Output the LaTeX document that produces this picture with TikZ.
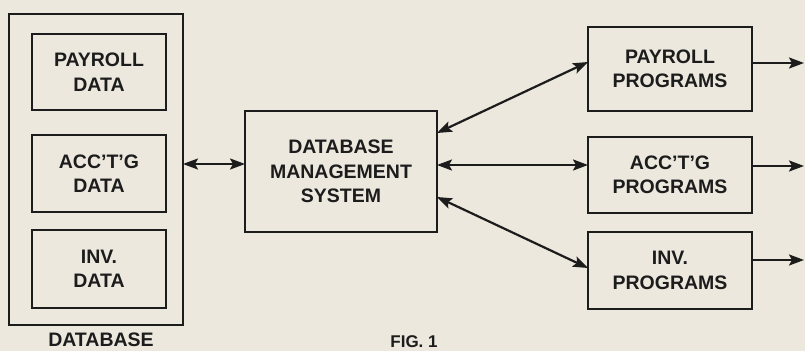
\documentclass[tikz,border=0pt]{standalone}
\usepackage{fontspec}
\setmainfont{Liberation Sans}
\usetikzlibrary{arrows.meta,calc}
\definecolor{paper}{HTML}{ECE8DE}
\definecolor{ink}{HTML}{1C1C1C}
\begin{document}
\begin{tikzpicture}[x=1pt,y=-1pt,
  box/.style={draw=ink,line width=2.6pt,outer sep=0pt,inner sep=0pt,align=center,
    font=\bfseries\fontsize{19.5}{24.5}\selectfont,text=ink},
  lbl/.style={font=\bfseries\fontsize{19.5}{24.5}\selectfont,text=ink,anchor=base,inner sep=0pt},
  tip/.tip={Stealth[length=15pt,width=11pt,inset=3pt]},
  conn/.style={draw=ink,line width=2.2pt,-tip},
  dbl/.style={draw=ink,line width=2.2pt,tip-tip}]
\fill[paper] (0,0) rectangle (805,351);
\useasboundingbox (0,0) rectangle (805,351);
% database
\node[box,minimum width=174pt,minimum height=311pt] (db) at (96,169.5) {};
\node[box,minimum width=134pt,minimum height=76pt] (pd) at (99,72) {PAYROLL\\DATA};
\node[box,minimum width=134pt,minimum height=77pt] (ad) at (99,173.5) {ACC'T'G\\DATA};
\node[box,minimum width=134pt,minimum height=78pt] (id) at (99,269) {INV.\\DATA};
\node[lbl] (dblbl) at (101,346.5) {DATABASE};
% dbms
\node[box,minimum width=192pt,minimum height=121pt] (dbms) at (341,171.5) {DATABASE\\MANAGEMENT\\SYSTEM};
% programs
\node[box,minimum width=164pt,minimum height=84pt] (pp) at (670,69) {PAYROLL\\PROGRAMS};
\node[box,minimum width=164pt,minimum height=76pt] (ap) at (670,175) {ACC'T'G\\PROGRAMS};
\node[box,minimum width=164pt,minimum height=77pt] (ip) at (670,270.5) {INV.\\PROGRAMS};
\node[lbl,font=\bfseries\fontsize{17}{20}\selectfont] (fig) at (414,347) {FIG. 1};
% connectors
\coordinate (dbr) at ($(db.east)+(0,-5.5)$);
\draw[dbl] (dbr) -- (dbms.west |- dbr);
\coordinate (pin) at ($(pp.west)+(0,-7)$);
\coordinate (dtop) at ($(dbms.north east)+(0,22)$);
\draw[dbl] (dtop) -- (pin);
\coordinate (ain) at ($(ap.west)+(0,-10)$);
\draw[dbl] (dbms.east |- ain) -- (ain);
\coordinate (iin) at ($(ip.west)+(0,-2.5)$);
\coordinate (dbot) at ($(dbms.south east)+(0,-35)$);
\draw[dbl] (dbot) -- (iin);
\coordinate (pout) at (804,63);
\coordinate (aout) at (804,166);
\coordinate (iout) at (804,260);
\draw[conn] (pp.east |- pout) -- (pout);
\draw[conn] (ap.east |- aout) -- (aout);
\draw[conn] (ip.east |- iout) -- (iout);
\end{tikzpicture}
\end{document}
